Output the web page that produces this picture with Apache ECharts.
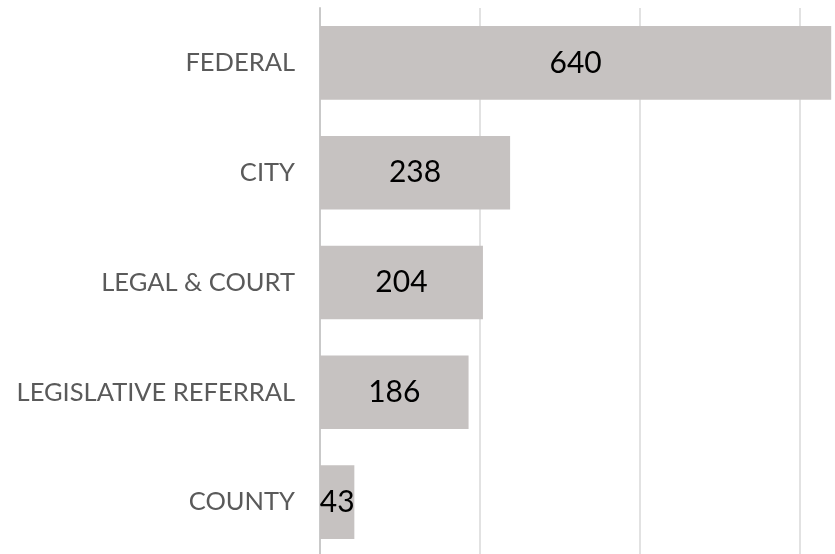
<!DOCTYPE html>
<html>
<head>
<meta charset="utf-8">
<script src="https://cdn.jsdelivr.net/npm/echarts@6/dist/echarts.min.js"></script>
<style>
html, body { margin: 0; padding: 0; background: #fff; }
#chart { width: 835px; height: 554px; }
</style>
</head>
<body>
<div id="chart"></div>
<script>
// categories, top to bottom
var categories = ['FEDERAL', 'CITY', 'LEGAL & COURT', 'LEGISLATIVE REFERRAL', 'COUNTY'];
var counts = [640, 238, 204, 186, 43];

var chart = echarts.init(document.getElementById('chart'));

var option = {
	animation: false,
	grid: {
		left: 320,
		top: 8,
		width: 639,
		height: 549,
		outerBoundsMode: 'none'
	},
	xAxis: {
		type: 'value',
		min: 0,
		max: 800,
		interval: 200,
		axisLabel: { show: false },
		axisLine: { show: false },
		axisTick: { show: false },
		splitLine: {
			lineStyle: { color: '#d9d9d9', width: 1.5 }
		}
	},
	yAxis: {
		type: 'category',
		data: categories,
		inverse: true,
		axisTick: { show: false },
		axisLine: {
			lineStyle: { color: '#c9c9c9', width: 2 }
		},
		axisLabel: {
			margin: 25,
			color: '#5a5a5a',
			fontSize: 25.5,
			fontFamily: 'Lato'
		}
	},
	series: [{
		type: 'bar',
		data: counts,
		barWidth: '67%',
		itemStyle: { color: '#c6c2c1' },
		label: {
			show: true,
			position: 'inside',
			color: '#000',
			fontSize: 30,
			fontFamily: 'Lato'
		}
	}]
};

chart.setOption(option);
</script>
</body>
</html>
